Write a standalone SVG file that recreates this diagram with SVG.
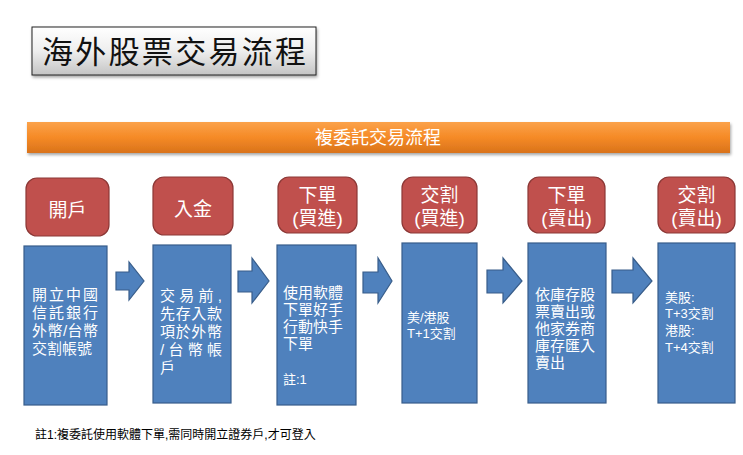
<svg xmlns="http://www.w3.org/2000/svg" width="743" height="455" viewBox="0 0 743 455">
<defs>
<linearGradient id="gTitle" x1="0" y1="0" x2="0" y2="1">
<stop offset="0" stop-color="#ffffff"/>
<stop offset="0.5" stop-color="#eeeeee"/>
<stop offset="1" stop-color="#c4c4c4"/>
</linearGradient>
<linearGradient id="gBar" x1="0" y1="0" x2="0" y2="1">
<stop offset="0" stop-color="#fba24a"/>
<stop offset="0.5" stop-color="#f58a26"/>
<stop offset="1" stop-color="#d9731b"/>
</linearGradient>
<filter id="sh" x="-10%" y="-20%" width="120%" height="160%">
<feDropShadow dx="1" dy="2" stdDeviation="1.5" flood-color="#000" flood-opacity="0.35"/>
</filter>
</defs>
<style>
.red{fill:#c0504d;stroke:#8c3836;stroke-width:1.2}
.blue{fill:#4f81bd;stroke:#385d8a;stroke-width:1.2}
.arr{fill:#4f81bd;stroke:#385d8a;stroke-width:1.2}
.ht{font-family:"Liberation Sans","Noto Sans CJK TC",sans-serif;font-size:19px;fill:#fff;text-anchor:middle}
.bt{font-family:"Liberation Sans","Noto Sans CJK TC",sans-serif;font-size:15px;fill:#fff}
.st{font-family:"Liberation Sans","Noto Sans CJK TC",sans-serif;font-size:13px;fill:#fff}
</style>
<rect width="743" height="455" fill="#fff"/>

<g id="title">
<rect x="32" y="27" width="284" height="48" fill="url(#gTitle)" stroke="#222" stroke-width="1" filter="url(#sh)"/>
<text x="174" y="63" text-anchor="middle" font-family="Liberation Serif,'Noto Sans CJK TC',serif" font-size="31" fill="#111" textLength="264" lengthAdjust="spacing">海外股票交易流程</text>
</g>

<g id="bar">
<rect x="27" y="122" width="703" height="31" fill="url(#gBar)" filter="url(#sh)"/>
<text x="378" y="144" text-anchor="middle" font-family="Liberation Sans,'Noto Sans CJK TC',sans-serif" font-size="18" fill="#fff">複委託交易流程</text>
</g>

<g id="step1">
<rect class="red" x="26" y="178" width="83" height="58" rx="11"/>
<text class="ht" x="67.5" y="217">開戶</text>
<rect class="blue" x="24" y="246" width="83" height="159"/>
<text class="bt" x="32" y="300" textLength="66" lengthAdjust="spacing">開立中國</text>
<text class="bt" x="32" y="318" textLength="66" lengthAdjust="spacing">信託銀行</text>
<text class="bt" x="32" y="336" textLength="66" lengthAdjust="spacing">外幣/台幣</text>
<text class="bt" x="32" y="354">交割帳號</text>
</g>

<g id="step2">
<rect class="red" x="153" y="177" width="80" height="58" rx="11"/>
<text class="ht" x="193" y="216">入金</text>
<rect class="blue" x="153" y="245" width="78" height="158"/>
<text class="bt" x="160" y="301" textLength="62" lengthAdjust="spacing">交易前,</text>
<text class="bt" x="160" y="319" textLength="62" lengthAdjust="spacing">先存入款</text>
<text class="bt" x="160" y="337" textLength="62" lengthAdjust="spacing">項於外幣</text>
<text class="bt" x="160" y="355" textLength="62" lengthAdjust="spacing">/台幣帳</text>
<text class="bt" x="160" y="373">戶</text>
</g>

<g id="step3">
<rect class="red" x="278" y="177" width="79" height="56" rx="11"/>
<text class="ht" x="317.5" y="202">下單</text>
<text class="ht" x="317.5" y="225">(買進)</text>
<rect class="blue" x="277" y="245" width="79" height="160"/>
<text class="bt" x="283" y="298">使用軟體</text>
<text class="bt" x="283" y="315">下單好手</text>
<text class="bt" x="283" y="332">行動快手</text>
<text class="bt" x="283" y="349">下單</text>
<text class="st" x="283" y="384">註:1</text>
</g>

<g id="step4">
<rect class="red" x="402" y="177" width="75" height="56" rx="11"/>
<text class="ht" x="439.5" y="202">交割</text>
<text class="ht" x="439.5" y="225">(買進)</text>
<rect class="blue" x="402" y="243" width="75" height="160"/>
<text class="st" x="407" y="322">美/港股</text>
<text class="st" x="407" y="338">T+1交割</text>
</g>

<g id="step5">
<rect class="red" x="528" y="177" width="77" height="56" rx="11"/>
<text class="ht" x="566.5" y="202">下單</text>
<text class="ht" x="566.5" y="225">(賣出)</text>
<rect class="blue" x="528" y="243" width="78" height="160"/>
<text class="bt" x="535" y="300">依庫存股</text>
<text class="bt" x="535" y="317">票賣出或</text>
<text class="bt" x="535" y="334">他家券商</text>
<text class="bt" x="535" y="351">庫存匯入</text>
<text class="bt" x="535" y="368">賣出</text>
</g>

<g id="step6">
<rect class="red" x="658" y="177" width="77" height="56" rx="11"/>
<text class="ht" x="696.5" y="202">交割</text>
<text class="ht" x="696.5" y="225">(賣出)</text>
<rect class="blue" x="658" y="243" width="77" height="160"/>
<text class="st" x="665" y="302">美股:</text>
<text class="st" x="665" y="318">T+3交割</text>
<text class="st" x="665" y="335">港股:</text>
<text class="st" x="665" y="352">T+4交割</text>
</g>

<g id="connectors">
<polygon class="arr" points="116,272 129,272 129,262 144,281 129,300 129,290 116,290"/>
<polygon class="arr" points="238,271 252,271 252,258 269,281 252,303 252,292 238,292"/>
<polygon class="arr" points="363,272 378,272 378,258 392,281 378,303 378,293 363,293"/>
<polygon class="arr" points="487,270 503,270 503,258 522,281 503,303 503,293 487,293"/>
<polygon class="arr" points="612,270 633,270 633,258 652,281 633,303 633,293 612,293"/>
</g>

<text id="note" x="35" y="439" font-family="Liberation Sans,'Noto Sans CJK TC',sans-serif" font-size="12" fill="#000">註1:複委託使用軟體下單,需同時開立證券戶,才可登入</text>
</svg>
